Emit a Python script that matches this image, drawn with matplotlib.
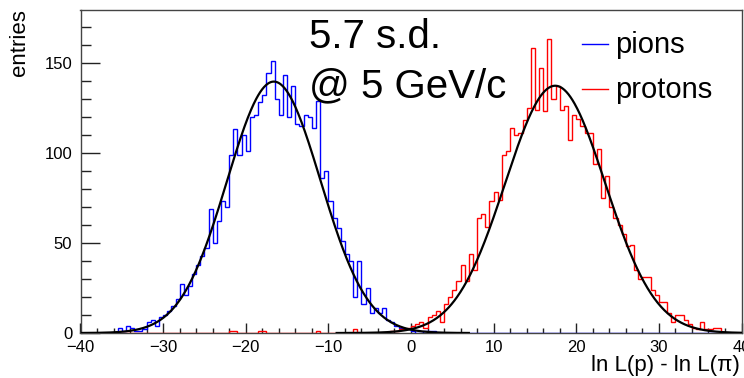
import numpy as np
import matplotlib
matplotlib.use("Agg")
import matplotlib.pyplot as plt
from matplotlib.lines import Line2D

plt.rcParams["font.family"] = ["Liberation Sans", "DejaVu Sans"]

# Histogram binning: 160 bins of width 0.5 over [-40, 40]
x_lo, x_hi, bin_w = -40.0, 40.0, 0.5

# Pion counts, contiguous bins starting at lower edge pion_start
pion_start = -36.0
pion_counts = [0, 3, 1, 4, 3, 1, 1, 2, 6, 7, 4, 9, 10, 12, 15, 19, 27, 21, 26, 33,
               38, 43, 47, 69, 50, 62, 73, 70, 99, 113, 99, 110, 101, 120, 121, 128,
               132, 144, 151, 130, 121, 143, 120, 137, 116, 115, 121, 120, 114, 129,
               86, 90, 73, 64, 58, 51, 44, 40, 20, 40, 16, 25, 11, 14, 11, 14, 7, 6,
               4, 3, 2, 2, 1, 0, 0, 1, 1, 1]

# Proton counts: a few isolated low bins, then a contiguous block
proton_low_edges = [-22.0, -21.5, -18.5, -18.0, -11.5, -7.0]
proton_low_counts = [1, 1, 1, 1, 1, 2]
proton_start = -2.5
proton_counts = [1, 1, 2, 2, 3, 4, 5, 6, 3, 9, 10, 12, 6, 16, 20, 24, 29, 38, 29, 44,
                 35, 64, 66, 59, 73, 78, 74, 99, 101, 114, 110, 111, 118, 125, 158,
                 124, 147, 123, 163, 130, 137, 124, 126, 107, 121, 119, 115, 111, 111,
                 94, 102, 75, 87, 70, 64, 60, 55, 48, 49, 35, 30, 31, 31, 24, 21, 17,
                 17, 11, 6, 10, 10, 7, 5, 3, 2, 6, 2, 2, 3, 3]

# Gaussian fit results (amplitude, mean, sigma, drawing range)
pion_fit = (139.5, -16.6, 5.65, (-40.0, 7.0))
proton_fit = (137.2, 17.45, 6.05, (-9.0, 40.0))

label_pions = "pions"
label_protons = "protons"
x_title = "ln L(p) - ln L(\u03c0)"
y_title = "entries"
note_lines = ["5.7 s.d.", "@ 5 GeV/c"]

edges = np.arange(x_lo, x_hi + bin_w / 2, bin_w)
nbins = len(edges) - 1


def fill_bins(start, counts, extra_edges=(), extra_counts=()):
    h = np.zeros(nbins)
    i0 = int(round((start - x_lo) / bin_w))
    h[i0:i0 + len(counts)] = counts
    for e, c in zip(extra_edges, extra_counts):
        h[int(round((e - x_lo) / bin_w))] = c
    return h


h_pion = fill_bins(pion_start, pion_counts)
h_proton = fill_bins(proton_start, proton_counts, proton_low_edges, proton_low_counts)

W, H = 744, 378
fig = plt.figure(figsize=(W / 100, H / 100), dpi=100)
ax = fig.add_axes([80.5 / W, 1 - 333 / H, 661 / W, 323.5 / H])

ax.stairs(h_pion, edges, color="#0000ff", lw=1.0, zorder=3)
ax.stairs(h_proton, edges, color="#ff0000", lw=1.0, zorder=3)


def gauss_curve(params):
    a, mu, sig, (lo, hi) = params
    xs = np.linspace(lo, hi, 600)
    return xs, a * np.exp(-0.5 * ((xs - mu) / sig) ** 2)


for p in (pion_fit, proton_fit):
    xs, ys = gauss_curve(p)
    ax.plot(xs, ys, color="black", lw=1.6, zorder=4)

ax.set_xlim(x_lo, x_hi)
ax.set_ylim(0, 179.5)
ax.set_xticks(np.arange(-40, 41, 10))
ax.set_xticks(np.arange(-40, 41, 2), minor=True)
ax.set_yticks([0, 50, 100, 150])
ax.set_yticks(np.arange(0, 180, 10), minor=True)

ax.tick_params(axis="both", which="both", direction="in", top=False, right=False,
               color="#222222", width=1.0, labelsize=12)
ax.tick_params(axis="x", which="major", length=7.2, pad=4.8)
ax.tick_params(axis="x", which="minor", length=3.6)
ax.tick_params(axis="y", which="major", length=13.5, pad=6.0)
ax.tick_params(axis="y", which="minor", length=7.2)
for s in ax.spines.values():
    s.set_color("#444444")
    s.set_linewidth(1.0)

fig.text(20 / W, 1 - 9 / H, y_title, rotation=90, ha="center", va="top", fontsize=16)
fig.text(740 / W, 1 - 371.5 / H, x_title, ha="right", va="baseline", fontsize=16)

fig.text(309 / W, 1 - 48 / H, note_lines[0], ha="left", va="baseline", fontsize=29)
fig.text(309 / W, 1 - 97 / H, note_lines[1], ha="left", va="baseline", fontsize=29)

# Legend entries
for (yl, yt, col, lab) in ((44, 53, "#0000ff", label_pions), (89, 98, "#ff0000", label_protons)):
    fig.add_artist(Line2D([582 / W, 608 / W], [1 - yl / H, 1 - yl / H], color=col, lw=1.0,
                          transform=fig.transFigure))
    fig.text(615 / W, 1 - yt / H, lab, ha="left", va="baseline", fontsize=21)

fig.savefig("out.png", dpi=100)
